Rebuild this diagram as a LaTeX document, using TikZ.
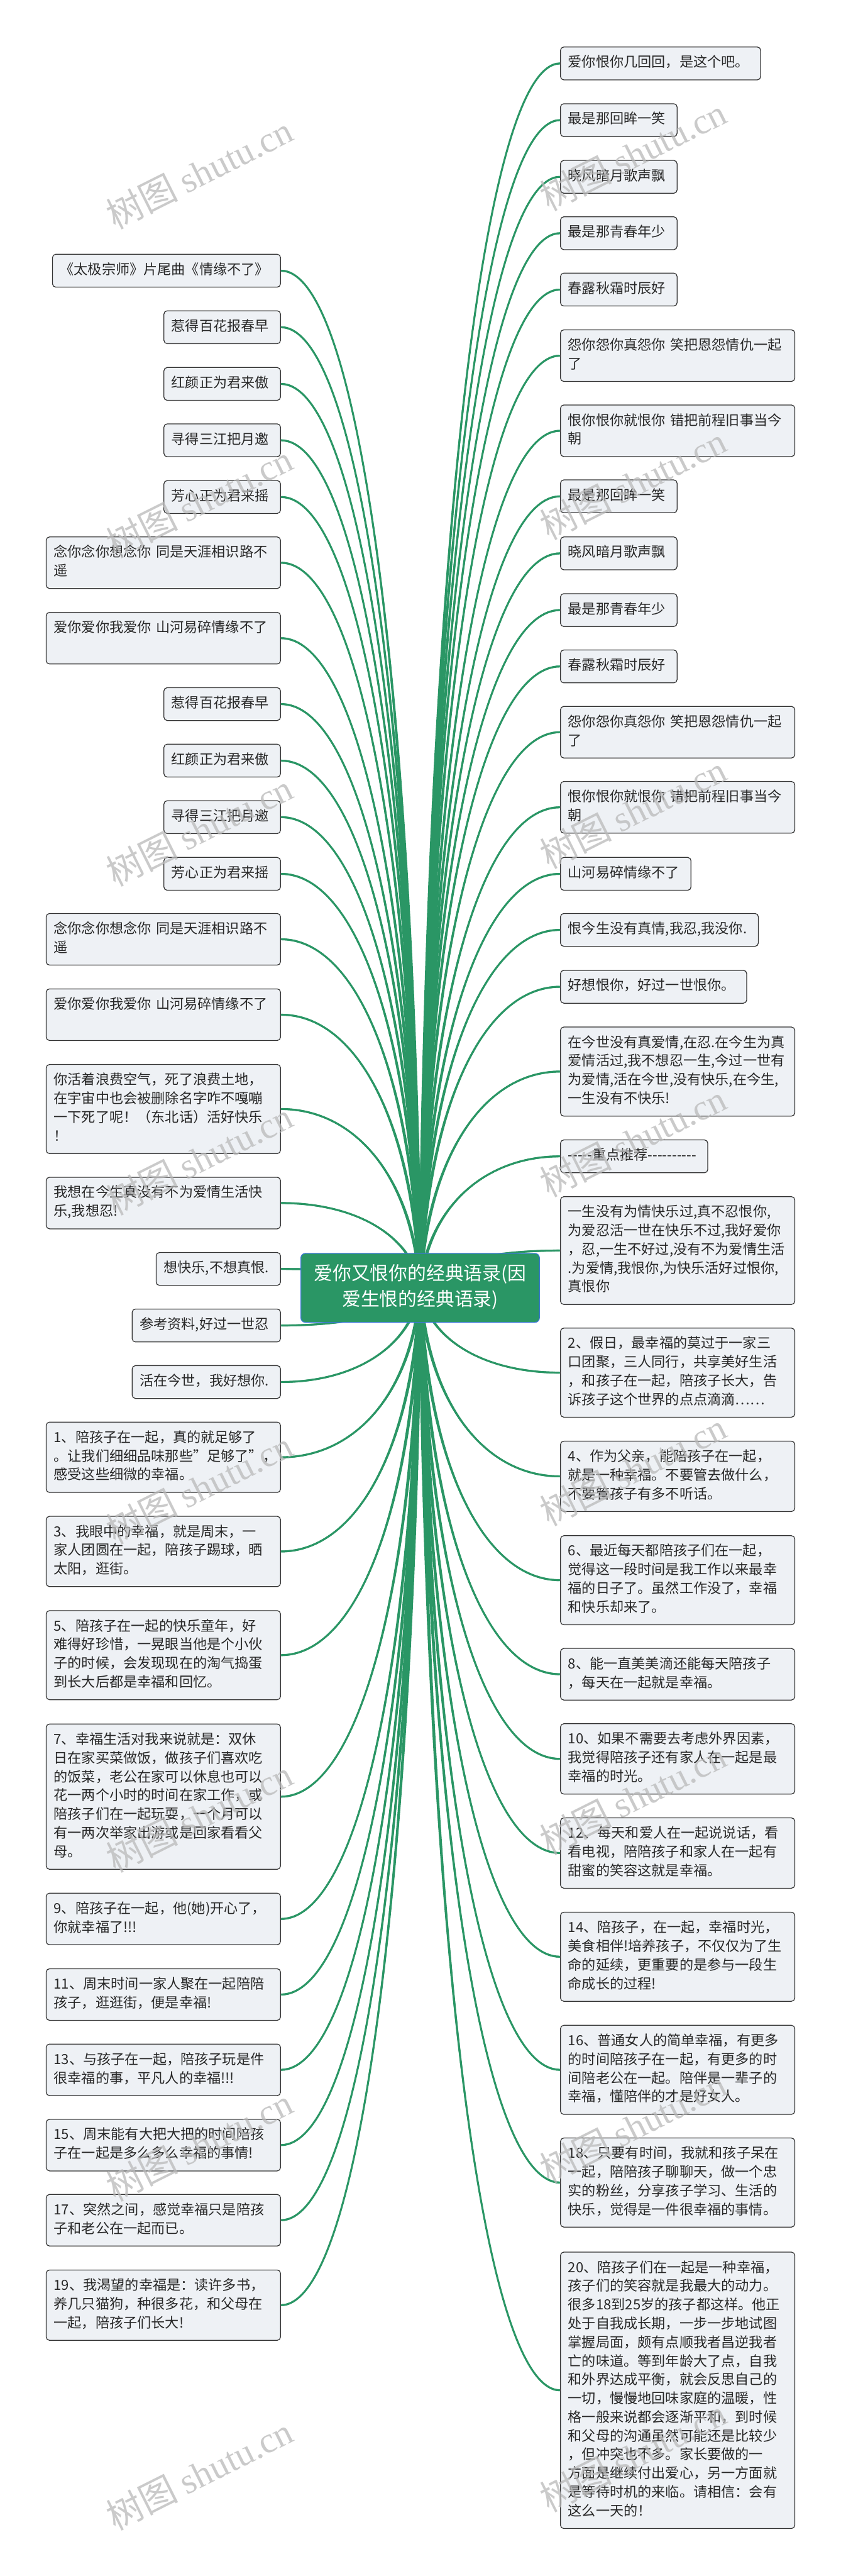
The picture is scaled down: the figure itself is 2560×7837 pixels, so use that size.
\documentclass[tikz,border=0pt]{standalone}
\usepackage{fontspec}
\setmainfont{Noto Sans CJK SC}
\newfontfamily\wmserif{Liberation Serif}
\usetikzlibrary{calc}
\definecolor{lk}{RGB}{42,150,101}
\definecolor{leaffill}{RGB}{238,241,245}
\definecolor{leafdraw}{RGB}{51,51,51}
\definecolor{txt}{RGB}{40,40,40}
\definecolor{cborder}{RGB}{60,120,210}
\definecolor{wm}{RGB}{185,185,185}
\pgfdeclarelayer{bg}\pgfdeclarelayer{fg}\pgfsetlayers{bg,main,fg}
\newcommand\LL[1]{\mbox{\strut#1}}
\newcommand\linkto[1]{%
 \fill[lk] let \p1=(c.center), \p2=(#1),
   \n1={sign(\x2-\x1)*sign(\y2-\y1)},
   \p3=({\x1+0.05*(\x2-\x1)},{\y1+0.6*(\y2-\y1)}),
   \p4=({\x1+0.45*(\x2-\x1)},\y2)
 in ({\x1-1.3pt},\y1) .. controls ({\x3-1.3pt},\y3) and (\x4,{\y4+\n1*0.7pt}) .. (\x2,{\y2+\n1*0.7pt})
   -- (\x2,{\y2-\n1*0.7pt}) .. controls (\x4,{\y4-\n1*0.7pt}) and ({\x3+1.3pt},\y3) .. ({\x1+1.3pt},\y1) -- cycle;
 \draw[lk, line width=1.45pt] let \p1=(c.center), \p2=(#1),
   \p3=({\x1+0.05*(\x2-\x1)},{\y1+0.6*(\y2-\y1)}),
   \p4=({\x1+0.45*(\x2-\x1)},\y2)
 in (\p1) .. controls (\p3) and (\p4) .. (\p2);}
\tikzset{
 leaf/.style={draw=leafdraw, fill=leaffill, line width=0.6pt, rounded corners=2.5pt,
   inner xsep=5.75pt, inner ysep=5.375pt, font=\fontsize{10.6pt}{14.25pt}\selectfont,
   text=txt, align=left},
 wide/.style={leaf, text width=166.75pt},
 rootbox/.style={draw=cborder, fill=lk, line width=0.6pt, rounded corners=3.5pt,
   inner xsep=10pt, inner ysep=6.75pt, font=\fontsize{14.25pt}{19.5pt}\selectfont,
   text=white, align=center},
 wmark/.style={anchor=base west, rotate=26.6, text=wm, opacity=0.75, inner sep=0pt,
   font=\fontsize{27.5pt}{30pt}\selectfont}
}
\begin{document}
\begin{tikzpicture}[x=0.25pt,y=-0.25pt]
\useasboundingbox (0,0) rectangle (2560,7837);
% centre
\node[rootbox] (c) at (1279,3918) {\LL{爱你又恨你的经典语录(因}\\\LL{爱生恨的经典语录)}};
% right side
\node[leaf,anchor=west] (r1) at (1705,193) {\LL{爱你恨你几回回，是这个吧。}\hspace{3pt}};
\node[leaf,anchor=west] (r2) at (1705,365.5) {\LL{最是那回眸一笑}\hspace{3pt}};
\node[leaf,anchor=west] (r3) at (1705,538) {\LL{晓风暗月歌声飘}\hspace{3pt}};
\node[leaf,anchor=west] (r4) at (1705,709.5) {\LL{最是那青春年少}\hspace{3pt}};
\node[leaf,anchor=west] (r5) at (1705,881) {\LL{春露秋霜时辰好}\hspace{3pt}};
\node[wide,anchor=west] (r6) at (1705,1082) {\LL{怨你怨你真怨你 笑把恩怨情仇一起}\\\LL{了}};
\node[wide,anchor=west] (r7) at (1705,1310.5) {\LL{恨你恨你就恨你 错把前程旧事当今}\\\LL{朝}};
\node[leaf,anchor=west] (r8) at (1705,1510) {\LL{最是那回眸一笑}\hspace{3pt}};
\node[leaf,anchor=west] (r9) at (1705,1683.5) {\LL{晓风暗月歌声飘}\hspace{3pt}};
\node[leaf,anchor=west] (r10) at (1705,1856) {\LL{最是那青春年少}\hspace{3pt}};
\node[leaf,anchor=west] (r11) at (1705,2027.5) {\LL{春露秋霜时辰好}\hspace{3pt}};
\node[wide,anchor=west] (r12) at (1705,2227.5) {\LL{怨你怨你真怨你 笑把恩怨情仇一起}\\\LL{了}};
\node[wide,anchor=west] (r13) at (1705,2456) {\LL{恨你恨你就恨你 错把前程旧事当今}\\\LL{朝}};
\node[leaf,anchor=west] (r14) at (1705,2658.5) {\LL{山河易碎情缘不了}\hspace{3pt}};
\node[leaf,anchor=west] (r15) at (1705,2829) {\LL{恨今生没有真情,我忍,我没你.}\hspace{3pt}};
\node[leaf,anchor=west] (r16) at (1705,3002) {\LL{好想恨你，好过一世恨你。}\hspace{3pt}};
\node[wide,anchor=west] (r17) at (1705,3260) {\LL{在今世没有真爱情,在忍.在今生为真}\\\LL{爱情活过,我不想忍一生,今过一世有}\\\LL{为爱情,活在今世,没有快乐,在今生,}\\\LL{一生没有不快乐!}};
\node[leaf,anchor=west] (r18) at (1705,3518) {\LL{-{}-{}-{}-{}-{}重点推荐-{}-{}-{}-{}-{}-{}-{}-{}-{}-{}}\hspace{3pt}};
\node[wide,anchor=west] (r19) at (1705,3804.5) {\LL{一生没有为情快乐过,真不忍恨你,}\\\LL{为爱忍活一世在快乐不过,我好爱你}\\\LL{，忍,一生不好过,没有不为爱情生活}\\\LL{.为爱情,我恨你,为快乐活好过恨你,}\\\LL{真恨你}};
\node[wide,anchor=west] (r20) at (1705,4176) {\LL{2、假日，最幸福的莫过于一家三}\\\LL{口团聚，三人同行，共享美好生活}\\\LL{，和孩子在一起，陪孩子长大，告}\\\LL{诉孩子这个世界的点点滴滴……}};
\node[wide,anchor=west] (r21) at (1705,4491.5) {\LL{4、作为父亲，能陪孩子在一起，}\\\LL{就是一种幸福。不要管去做什么，}\\\LL{不要管孩子有多不听话。}};
\node[wide,anchor=west] (r22) at (1705,4807.5) {\LL{6、最近每天都陪孩子们在一起，}\\\LL{觉得这一段时间是我工作以来最幸}\\\LL{福的日子了。虽然工作没了，幸福}\\\LL{和快乐却来了。}};
\node[wide,anchor=west] (r23) at (1705,5093.5) {\LL{8、能一直美美滴还能每天陪孩子}\\\LL{，每天在一起就是幸福。}};
\node[wide,anchor=west] (r24) at (1705,5351) {\LL{10、如果不需要去考虑外界因素，}\\\LL{我觉得陪孩子还有家人在一起是最}\\\LL{幸福的时光。}};
\node[wide,anchor=west] (r25) at (1705,5637.5) {\LL{12、每天和爱人在一起说说话，看}\\\LL{看电视，陪陪孩子和家人在一起有}\\\LL{甜蜜的笑容这就是幸福。}};
\node[wide,anchor=west] (r26) at (1705,5953) {\LL{14、陪孩子，在一起，幸福时光，}\\\LL{美食相伴!培养孩子，不仅仅为了生}\\\LL{命的延续，更重要的是参与一段生}\\\LL{命成长的过程!}};
\node[wide,anchor=west] (r27) at (1705,6297) {\LL{16、普通女人的简单幸福，有更多}\\\LL{的时间陪孩子在一起，有更多的时}\\\LL{间陪老公在一起。陪伴是一辈子的}\\\LL{幸福，懂陪伴的才是好女人。}};
\node[wide,anchor=west] (r28) at (1705,6640) {\LL{18、只要有时间，我就和孩子呆在}\\\LL{一起，陪陪孩子聊聊天，做一个忠}\\\LL{实的粉丝，分享孩子学习、生活的}\\\LL{快乐，觉得是一件很幸福的事情。}};
\node[wide,anchor=west] (r29) at (1705,7272) {\LL{20、陪孩子们在一起是一种幸福，}\\\LL{孩子们的笑容就是我最大的动力。}\\\LL{很多18到25岁的孩子都这样。他正}\\\LL{处于自我成长期，一步一步地试图}\\\LL{掌握局面，颇有点顺我者昌逆我者}\\\LL{亡的味道。等到年龄大了点，自我}\\\LL{和外界达成平衡，就会反思自己的}\\\LL{一切，慢慢地回味家庭的温暖，性}\\\LL{格一般来说都会逐渐平和，到时候}\\\LL{和父母的沟通虽然可能还是比较少}\\\LL{，但冲突也不多。家长要做的一}\\\LL{方面是继续付出爱心，另一方面就}\\\LL{是等待时机的来临。请相信：会有}\\\LL{这么一天的！}};
% left side
\node[leaf,anchor=east] (l1) at (855,823.5) {\LL{《太极宗师》片尾曲《情缘不了》}\hspace{3pt}};
\node[leaf,anchor=east] (l2) at (855,995.5) {\LL{惹得百花报春早}\hspace{3pt}};
\node[leaf,anchor=east] (l3) at (855,1168) {\LL{红颜正为君来傲}\hspace{3pt}};
\node[leaf,anchor=east] (l4) at (855,1339.5) {\LL{寻得三江把月邀}\hspace{3pt}};
\node[leaf,anchor=east] (l5) at (855,1512) {\LL{芳心正为君来摇}\hspace{3pt}};
\node[wide,anchor=east] (l6) at (855,1712) {\LL{念你念你想念你 同是天涯相识路不}\\\LL{遥}};
\node[wide,anchor=east] (l7) at (855,1941.5) {\LL{爱你爱你我爱你 山河易碎情缘不了}\\\LL{}};
\node[leaf,anchor=east] (l8) at (855,2142) {\LL{惹得百花报春早}\hspace{3pt}};
\node[leaf,anchor=east] (l9) at (855,2314) {\LL{红颜正为君来傲}\hspace{3pt}};
\node[leaf,anchor=east] (l10) at (855,2486) {\LL{寻得三江把月邀}\hspace{3pt}};
\node[leaf,anchor=east] (l11) at (855,2658.5) {\LL{芳心正为君来摇}\hspace{3pt}};
\node[wide,anchor=east] (l12) at (855,2857.5) {\LL{念你念你想念你 同是天涯相识路不}\\\LL{遥}};
\node[wide,anchor=east] (l13) at (855,3087) {\LL{爱你爱你我爱你 山河易碎情缘不了}\\\LL{}};
\node[wide,anchor=east] (l14) at (855,3374) {\LL{你活着浪费空气，死了浪费土地，}\\\LL{在宇宙中也会被删除名字咋不嘎嘣}\\\LL{一下死了呢！（东北话）活好快乐}\\\LL{！}};
\node[wide,anchor=east] (l15) at (855,3660) {\LL{我想在今生真没有不为爱情生活快}\\\LL{乐,我想忍!}};
\node[leaf,anchor=east] (l16) at (855,3860.5) {\LL{想快乐,不想真恨.}\hspace{3pt}};
\node[leaf,anchor=east] (l17) at (855,4032.5) {\LL{参考资料,好过一世忍}\hspace{3pt}};
\node[leaf,anchor=east] (l18) at (855,4204.5) {\LL{活在今世，我好想你.}\hspace{3pt}};
\node[wide,anchor=east] (l19) at (855,4433.5) {\LL{1、陪孩子在一起，真的就足够了}\\\LL{。让我们细细品味那些"足够了"，}\\\LL{感受这些细微的幸福。}};
\node[wide,anchor=east] (l20) at (855,4720) {\LL{3、我眼中的幸福，就是周末，一}\\\LL{家人团圆在一起，陪孩子踢球，晒}\\\LL{太阳，逛街。}};
\node[wide,anchor=east] (l21) at (855,5035.5) {\LL{5、陪孩子在一起的快乐童年，好}\\\LL{难得好珍惜，一晃眼当他是个小伙}\\\LL{子的时候，会发现现在的淘气捣蛋}\\\LL{到长大后都是幸福和回忆。}};
\node[wide,anchor=east] (l22) at (855,5466) {\LL{7、幸福生活对我来说就是：双休}\\\LL{日在家买菜做饭，做孩子们喜欢吃}\\\LL{的饭菜，老公在家可以休息也可以}\\\LL{花一两个小时的时间在家工作，或}\\\LL{陪孩子们在一起玩耍，一个月可以}\\\LL{有一两次举家出游或是回家看看父}\\\LL{母。}};
\node[wide,anchor=east] (l23) at (855,5838) {\LL{9、陪孩子在一起，他(她)开心了，}\\\LL{你就幸福了!!!}};
\node[wide,anchor=east] (l24) at (855,6068) {\LL{11、周末时间一家人聚在一起陪陪}\\\LL{孩子，逛逛街，便是幸福!}};
\node[wide,anchor=east] (l25) at (855,6297) {\LL{13、与孩子在一起，陪孩子玩是件}\\\LL{很幸福的事，平凡人的幸福!!!}};
\node[wide,anchor=east] (l26) at (855,6526) {\LL{15、周末能有大把大把的时间陪孩}\\\LL{子在一起是多么多么幸福的事情!}};
\node[wide,anchor=east] (l27) at (855,6754.5) {\LL{17、突然之间，感觉幸福只是陪孩}\\\LL{子和老公在一起而已。}};
\node[wide,anchor=east] (l28) at (855,7013) {\LL{19、我渴望的幸福是：读许多书，}\\\LL{养几只猫狗，种很多花，和父母在}\\\LL{一起，陪孩子们长大!}};
% connectors
\begin{pgfonlayer}{bg}
\fill[white] (0,0) rectangle (2560,7837);
\foreach \nm in {r1,r2,r3,r4,r5,r6,r7,r8,r9,r10,r11,r12,r13,r14,r15,r16,r17,r18,r19,r20,r21,r22,r23,r24,r25,r26,r27,r28,r29} {\linkto{\nm.west}}
\foreach \nm in {l1,l2,l3,l4,l5,l6,l7,l8,l9,l10,l11,l12,l13,l14,l15,l16,l17,l18,l19,l20,l21,l22,l23,l24,l25,l26,l27,l28} {\linkto{\nm.east}}
\end{pgfonlayer}
% watermarks
\begin{pgfonlayer}{fg}
\foreach \k in {0,...,7} {
  \node[wmark] (wl\k) at (350,{700+1000*\k}) {树图 {\wmserif shutu.cn}};
  \node[wmark] (wr\k) at (1670,{645+1000*\k}) {树图 {\wmserif shutu.cn}};
}
\end{pgfonlayer}
\end{tikzpicture}
\end{document}
